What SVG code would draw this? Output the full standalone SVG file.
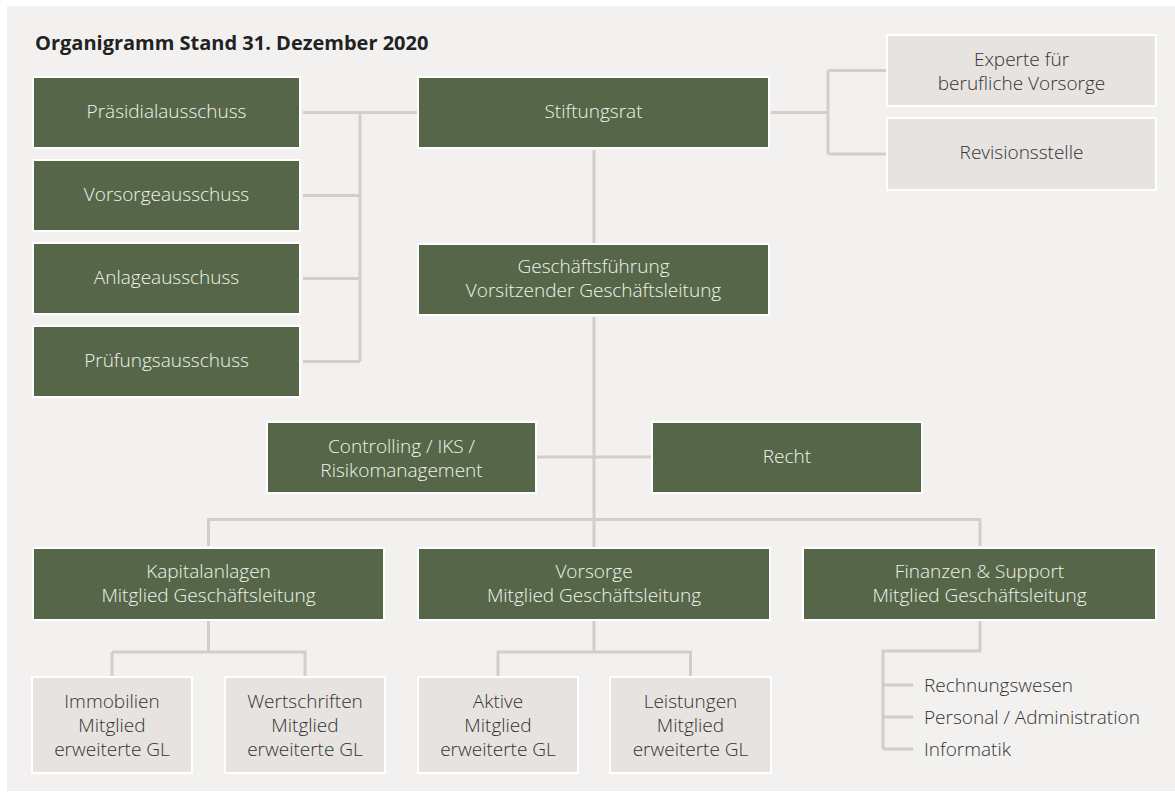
<svg xmlns="http://www.w3.org/2000/svg" width="1175" height="792" viewBox="0 0 1175 792">
<style>
.g rect{fill:#556748;stroke:#ffffff;stroke-width:2}
.g text{fill:#f2f2ec;font-family:"Open Sans","Noto Sans",sans-serif;font-size:19px;font-weight:300;text-anchor:middle}
.l rect{fill:#e7e3e0;stroke:#ffffff;stroke-width:2}
.l text{fill:#333333;font-family:"Open Sans","Noto Sans",sans-serif;font-size:19px;font-weight:300;text-anchor:middle}
.item{fill:#333333;font-family:"Open Sans","Noto Sans",sans-serif;font-size:19px;font-weight:300}
#connectors path{fill:none;stroke:#d4cdc9;stroke-width:3}
</style>
<rect x="0" y="0" width="1175" height="792" fill="#ffffff"/>
<rect x="7" y="6" width="1168" height="785" fill="#f2f1ef"/>
<text x="35" y="50" font-family="'Open Sans','Noto Sans',sans-serif" font-weight="bold" font-size="20" fill="#222222">Organigramm Stand 31. Dezember 2020</text>

<g id="connectors">
<path d="M303 112.5H417M360 112.5V361.5M303 195.5H360M303 278.5H360M303 361.5H360"/>
<path d="M771 112.5H828M828 70.5V154M828 70.5H886M828 154H886"/>
<path d="M594 150V243M594 317V547M537 457H651"/>
<path d="M208.5 546V519.5H980V546"/>
<path d="M208.5 621V652H112M208.5 652H305V676M112 652V676"/>
<path d="M594 621V652H498V676M594 652H690.5V676"/>
<path d="M980 621V651H883V749M883 685H913M883 717H913M883 749H913"/>
</g>

<g id="praesidialausschuss" class="g"><rect x="33" y="77" width="267" height="71"/><text x="166.5" y="117.5">Präsidialausschuss</text></g>
<g id="vorsorgeausschuss" class="g"><rect x="33" y="160" width="267" height="71"/><text x="166.5" y="200.5">Vorsorgeausschuss</text></g>
<g id="anlageausschuss" class="g"><rect x="33" y="243" width="267" height="71"/><text x="166.5" y="283.5">Anlageausschuss</text></g>
<g id="pruefungsausschuss" class="g"><rect x="33" y="326" width="267" height="71"/><text x="166.5" y="366.5">Prüfungsausschuss</text></g>

<g id="stiftungsrat" class="g"><rect x="418" y="77" width="351" height="71"/><text x="593.5" y="117.5">Stiftungsrat</text></g>

<g id="experte" class="l"><rect x="887" y="35" width="269" height="71"/><text x="1021.5" y="66">Experte für</text><text x="1021.5" y="90">berufliche Vorsorge</text></g>
<g id="revisionsstelle" class="l"><rect x="887" y="118" width="269" height="72"/><text x="1021.5" y="159">Revisionsstelle</text></g>

<g id="geschaeftsfuehrung" class="g"><rect x="418" y="244" width="351" height="71"/><text x="593.5" y="273">Geschäftsführung</text><text x="593.5" y="297">Vorsitzender Geschäftsleitung</text></g>

<g id="controlling" class="g"><rect x="267" y="422" width="269" height="71"/><text x="401.5" y="452.5">Controlling / IKS /</text><text x="401.5" y="476.5">Risikomanagement</text></g>
<g id="recht" class="g"><rect x="652" y="422" width="270" height="71"/><text x="787" y="463">Recht</text></g>

<g id="kapitalanlagen" class="g"><rect x="33" y="548" width="351" height="72"/><text x="208.5" y="578">Kapitalanlagen</text><text x="208.5" y="602">Mitglied Geschäftsleitung</text></g>
<g id="vorsorge" class="g"><rect x="418" y="548" width="352" height="72"/><text x="594" y="578">Vorsorge</text><text x="594" y="602">Mitglied Geschäftsleitung</text></g>
<g id="finanzen" class="g"><rect x="803" y="548" width="353" height="72"/><text x="979.5" y="578">Finanzen &amp; Support</text><text x="979.5" y="602">Mitglied Geschäftsleitung</text></g>

<g id="immobilien" class="l"><rect x="32" y="677" width="160" height="96"/><text x="112" y="708">Immobilien</text><text x="112" y="732">Mitglied</text><text x="112" y="756">erweiterte GL</text></g>
<g id="wertschriften" class="l"><rect x="225" y="677" width="160" height="96"/><text x="305" y="708">Wertschriften</text><text x="305" y="732">Mitglied</text><text x="305" y="756">erweiterte GL</text></g>
<g id="aktive" class="l"><rect x="418" y="677" width="160" height="96"/><text x="498" y="708">Aktive</text><text x="498" y="732">Mitglied</text><text x="498" y="756">erweiterte GL</text></g>
<g id="leistungen" class="l"><rect x="610" y="677" width="161" height="96"/><text x="690.5" y="708">Leistungen</text><text x="690.5" y="732">Mitglied</text><text x="690.5" y="756">erweiterte GL</text></g>

<g id="finanzen-items">
<text class="item" x="924" y="692">Rechnungswesen</text>
<text class="item" x="924" y="724">Personal / Administration</text>
<text class="item" x="924" y="756">Informatik</text>
</g>
</svg>
